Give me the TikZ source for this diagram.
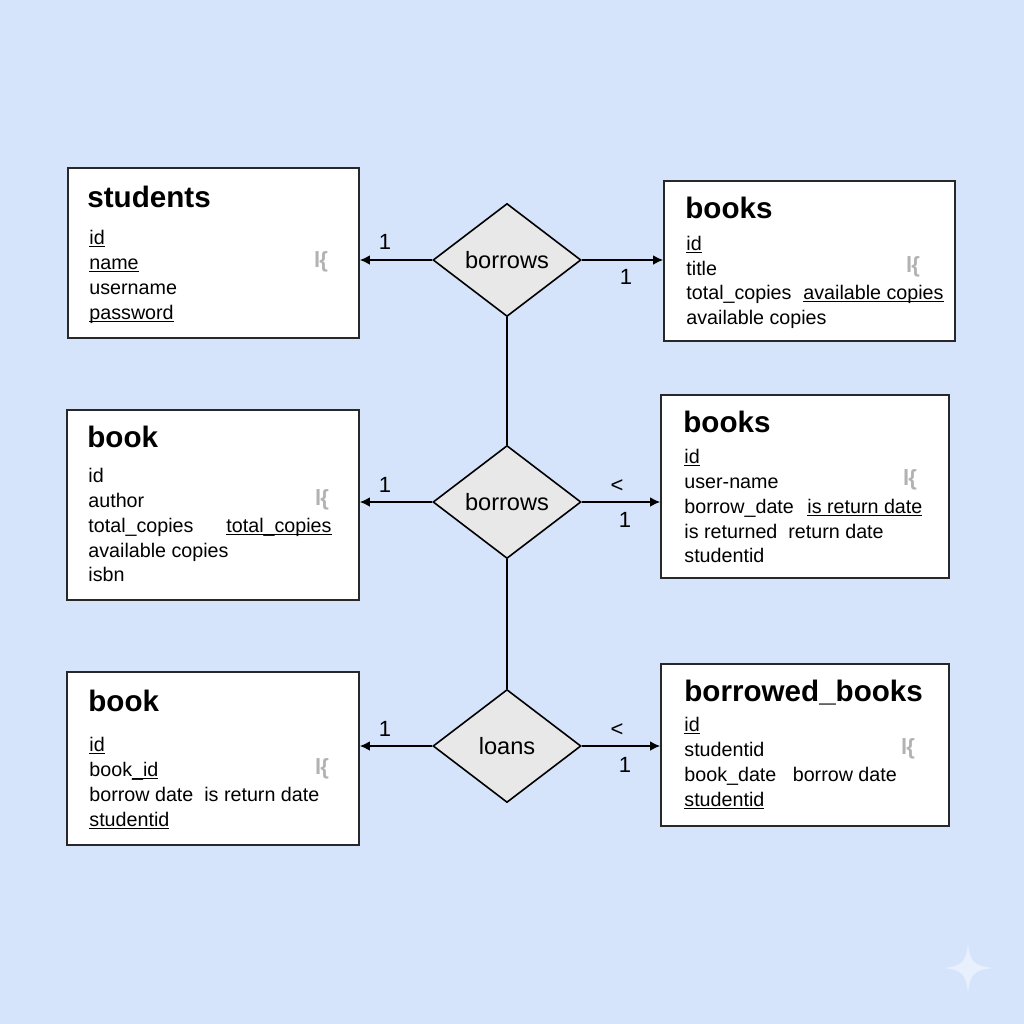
\documentclass[tikz,border=0pt]{standalone}
\usepackage{fontspec}
\setmainfont{Liberation Sans}
\usetikzlibrary{shapes.geometric,arrows.meta}
\definecolor{bg}{RGB}{214,228,251}
\definecolor{edgec}{RGB}{40,40,40}
\definecolor{diam}{RGB}{232,232,232}
\definecolor{starc}{RGB}{232,240,253}
\newcommand\ulx[1]{\underline{\smash{#1}}}
\begin{document}
\begin{tikzpicture}[x=0.5pt,y=-0.5pt,
  entity/.style={rectangle,draw=edgec,fill=white,line width=0.8pt,inner sep=0pt},
  rel/.style={diamond,draw=black,fill=diam,line width=0.8pt,inner sep=0pt,
    minimum width=74pt,minimum height=56.5pt,font=\fontsize{11.8}{14}\selectfont},
  ttl/.style={anchor=base west,inner sep=0pt,font=\bfseries\fontsize{14.8}{18}\selectfont},
  attr/.style={anchor=base west,inner sep=0pt,font=\fontsize{9.85}{12}\selectfont},
  glyph/.style={inner sep=0pt,text=gray!60,font=\bfseries\fontsize{11}{13}\selectfont},
  card/.style={inner sep=0pt,font=\fontsize{11}{13}\selectfont},
  arr/.style={draw=black,line width=0.8pt,-{Latex[length=5pt,width=4.8pt]}},
  link/.style={draw=black,line width=0.8pt}]
\fill[bg] (0,0) rectangle (1024,1024);
\useasboundingbox (0,0) rectangle (1024,1024);

% watermark star
\fill[starc] (968,944) .. controls (970,962) and (974,966) .. (993,968)
  .. controls (974,970) and (970,974) .. (968,993)
  .. controls (966,974) and (962,970) .. (944,968)
  .. controls (962,966) and (966,962) .. (968,944) -- cycle;

% entities
\node[entity,minimum width=145.5pt,minimum height=85pt] (stu) at (213.5,253) {};
\node[entity,minimum width=145.5pt,minimum height=80pt] (bk1) at (809.5,261) {};
\node[entity,minimum width=146pt,minimum height=95pt] (bo2) at (213,505) {};
\node[entity,minimum width=144pt,minimum height=91.5pt] (bk2) at (805,486.5) {};
\node[entity,minimum width=146pt,minimum height=86.5pt] (bo3) at (213,758.5) {};
\node[entity,minimum width=144pt,minimum height=81pt] (bb) at (805,745) {};

% relationships
\node[rel] (r1) at (507,260) {borrows};
\node[rel] (r2) at (507,502) {borrows};
\node[rel] (r3) at (507,746) {loans};

% connectors
\draw[link] (r1.south) -- (r2.north);
\draw[link] (r2.south) -- (r3.north);
\draw[arr] (r1.west) -- (r1.west -| stu.east);
\draw[arr] (r1.east) -- (r1.east -| bk1.west);
\draw[arr] (r2.west) -- (r2.west -| bo2.east);
\draw[arr] (r2.east) -- (r2.east -| bk2.west);
\draw[arr] (r3.west) -- (r3.west -| bo3.east);
\draw[arr] (r3.east) -- (r3.east -| bb.west);

% cardinalities
\node[card] (c1) at (385,242) {1};
\node[card] (c2) at (626,277) {1};
\node[card] (c3) at (385,485) {1};
\node[card] (c4) at (617,486) {<};
\node[card] (c5) at (625,520) {1};
\node[card] (c6) at (385,729) {1};
\node[card] (c7) at (617,730) {<};
\node[card] (c8) at (625,765) {1};

% students
\node[ttl] (t1) at (87,207) {students};
\node[attr] (a11) at (89,244) {\ulx{id}};
\node[attr] (a12) at (89,269) {\ulx{name}};
\node[attr] (a13) at (89,294) {username};
\node[attr] (a14) at (89,319) {\ulx{password}};
\node[glyph] (g1) at (321,262) {l\kern-0.5pt\{};

% books top
\node[ttl] (t2) at (685,218) {books};
\node[attr] (a21) at (686,250) {\ulx{id}};
\node[attr] (a22) at (686,275) {title};
\node[attr] (a23) at (686,299) {total\_copies};
\node[attr] (a23b) at (803,299) {\ulx{available copies}};
\node[attr] (a24) at (686,324) {available copies};
\node[glyph] (g2) at (913,267) {l\kern-0.5pt\{};

% book mid
\node[ttl] (t3) at (87,447) {book};
\node[attr] (a31) at (88,482) {id};
\node[attr] (a32) at (88,507) {author};
\node[attr] (a33) at (88,532) {total\_copies};
\node[attr] (a33b) at (226,532) {\ulx{total\_copies}};
\node[attr] (a34) at (88,557) {available copies};
\node[attr] (a35) at (88,581) {isbn};
\node[glyph] (g3) at (322,500) {l\kern-0.5pt\{};

% books mid right
\node[ttl] (t4) at (683,432) {books};
\node[attr] (a41) at (684,463) {\ulx{id}};
\node[attr] (a42) at (684,488) {user-name};
\node[attr] (a43) at (684,513) {borrow\_date};
\node[attr] (a43b) at (807,513) {\ulx{is return date}};
\node[attr] (a44) at (684,538) {is returned\ \ return date};
\node[attr] (a45) at (684,562) {studentid};
\node[glyph] (g4) at (910,480) {l\kern-0.5pt\{};

% book bottom
\node[ttl] (t5) at (88,711) {book};
\node[attr] (a51) at (89,751) {\ulx{id}};
\node[attr] (a52) at (89,776) {book\ulx{\_id}};
\node[attr] (a53) at (89,801) {borrow date\ \ is return date};
\node[attr] (a54) at (89,826) {\ulx{studentid}};
\node[glyph] (g5) at (322,769) {l\kern-0.5pt\{};

% borrowed_books
\node[ttl] (t6) at (684,701) {borrowed\_books};
\node[attr] (a61) at (684,731) {\ulx{id}};
\node[attr] (a62) at (684,756) {studentid};
\node[attr] (a63) at (684,781) {book\_date\ \ \ borrow date};
\node[attr] (a64) at (684,806) {\ulx{studentid}};
\node[glyph] (g6) at (908,749) {l\kern-0.5pt\{};
\end{tikzpicture}
\end{document}
